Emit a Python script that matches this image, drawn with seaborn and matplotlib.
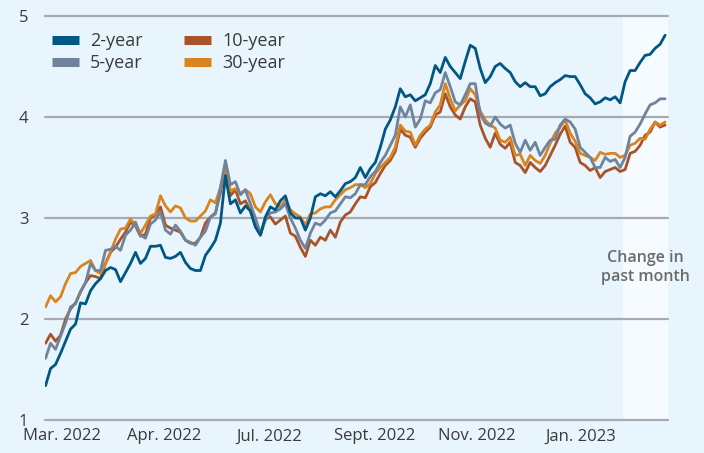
import numpy as np
import pandas as pd
import matplotlib
matplotlib.use("Agg")
import matplotlib.pyplot as plt
from matplotlib.lines import Line2D
import seaborn as sns

# Treasury yields (roughly every 5 px / ~2 trading days)
yield_2y = [
    1.34, 1.51, 1.55, 1.66, 1.78, 1.90, 1.95, 2.16, 2.15, 2.28,
    2.35, 2.40, 2.48, 2.51, 2.49, 2.37, 2.46, 2.55, 2.66, 2.55,
    2.60, 2.72, 2.72, 2.73, 2.61, 2.60, 2.62, 2.66, 2.56, 2.50,
    2.48, 2.48, 2.63, 2.70, 2.78, 2.95, 3.42, 3.14, 3.18, 3.05,
    3.12, 3.07, 2.91, 2.83, 3.01, 3.11, 3.08, 3.17, 3.22, 3.05,
    3.00, 3.00, 2.88, 3.00, 3.21, 3.24, 3.22, 3.26, 3.21, 3.27,
    3.34, 3.36, 3.40, 3.50, 3.40, 3.49, 3.55, 3.70, 3.88, 3.97,
    4.10, 4.28, 4.20, 4.22, 4.16, 4.19, 4.22, 4.33, 4.51, 4.44,
    4.59, 4.50, 4.44, 4.38, 4.55, 4.71, 4.68, 4.48, 4.34, 4.40,
    4.50, 4.53, 4.48, 4.44, 4.35, 4.30, 4.34, 4.30, 4.30, 4.21,
    4.23, 4.30, 4.34, 4.37, 4.41, 4.40, 4.40, 4.32, 4.23, 4.19,
    4.13, 4.15, 4.19, 4.17, 4.20, 4.14, 4.35, 4.46, 4.46, 4.54,
    4.61, 4.62, 4.68, 4.72, 4.81,
]
yield_5y = [
    1.61, 1.76, 1.70, 1.83, 1.96, 2.12, 2.15, 2.27, 2.36, 2.55,
    2.48, 2.48, 2.68, 2.69, 2.72, 2.68, 2.83, 2.88, 2.96, 2.83,
    2.80, 2.94, 2.98, 3.06, 2.88, 2.84, 2.93, 2.87, 2.78, 2.76,
    2.73, 2.81, 2.87, 3.01, 3.04, 3.30, 3.57, 3.33, 3.36, 3.23,
    3.28, 3.14, 3.00, 2.85, 2.98, 3.05, 3.06, 3.09, 3.14, 3.00,
    2.90, 2.78, 2.70, 2.85, 2.95, 2.93, 2.98, 3.05, 3.07, 3.14,
    3.21, 3.20, 3.24, 3.33, 3.33, 3.41, 3.46, 3.55, 3.62, 3.72,
    3.82, 4.10, 4.00, 4.12, 3.90, 3.98, 4.16, 4.14, 4.24, 4.27,
    4.44, 4.30, 4.15, 4.12, 4.22, 4.33, 4.33, 4.03, 3.94, 3.91,
    4.00, 3.93, 3.89, 3.92, 3.74, 3.65, 3.77, 3.67, 3.75, 3.62,
    3.70, 3.77, 3.78, 3.92, 3.98, 3.95, 3.88, 3.70, 3.65, 3.60,
    3.50, 3.50, 3.60, 3.56, 3.58, 3.50, 3.60, 3.81, 3.85, 3.93,
    4.03, 4.12, 4.14, 4.18, 4.18,
]
yield_10y = [
    1.76, 1.85, 1.78, 1.84, 2.00, 2.10, 2.16, 2.27, 2.36, 2.43,
    2.42, 2.40, 2.55, 2.66, 2.71, 2.79, 2.86, 2.96, 2.92, 2.82,
    2.84, 3.00, 3.03, 3.11, 2.93, 2.90, 2.88, 2.86, 2.78, 2.75,
    2.75, 2.81, 2.95, 3.01, 3.05, 3.25, 3.53, 3.22, 3.28, 3.14,
    3.17, 3.07, 2.93, 2.83, 2.99, 3.01, 2.94, 2.98, 3.02, 2.85,
    2.82, 2.71, 2.62, 2.78, 2.73, 2.81, 2.78, 2.88, 2.81, 2.96,
    3.03, 3.06, 3.14, 3.21, 3.20, 3.31, 3.35, 3.44, 3.52, 3.57,
    3.66, 3.88, 3.82, 3.80, 3.70, 3.79, 3.85, 3.90, 4.02, 4.05,
    4.23, 4.10, 4.02, 3.98, 4.10, 4.18, 4.15, 3.92, 3.79, 3.70,
    3.84, 3.73, 3.69, 3.75, 3.55, 3.52, 3.45, 3.55, 3.50, 3.46,
    3.52, 3.62, 3.72, 3.83, 3.91, 3.75, 3.70, 3.55, 3.52, 3.47,
    3.50, 3.40, 3.46, 3.48, 3.50, 3.46, 3.48, 3.64, 3.66, 3.72,
    3.82, 3.85, 3.95, 3.90, 3.92,
]
yield_30y = [
    2.12, 2.23, 2.17, 2.22, 2.35, 2.45, 2.46, 2.52, 2.55, 2.58,
    2.48, 2.45, 2.55, 2.66, 2.79, 2.89, 2.90, 2.99, 2.93, 2.85,
    2.93, 3.02, 3.04, 3.22, 3.12, 3.06, 3.12, 3.10, 3.00, 2.97,
    2.97, 3.02, 3.07, 3.18, 3.15, 3.30, 3.50, 3.27, 3.29, 3.24,
    3.28, 3.24, 3.11, 3.06, 3.16, 3.23, 3.14, 3.11, 3.18, 3.08,
    3.04, 3.01, 2.93, 3.04, 3.05, 3.09, 3.11, 3.11, 3.18, 3.23,
    3.28, 3.30, 3.33, 3.33, 3.30, 3.34, 3.44, 3.50, 3.55, 3.60,
    3.70, 3.92, 3.86, 3.85, 3.72, 3.82, 3.88, 3.92, 4.05, 4.12,
    4.33, 4.18, 4.06, 4.12, 4.16, 4.28, 4.22, 4.06, 3.97, 3.92,
    3.89, 3.77, 3.75, 3.80, 3.62, 3.63, 3.52, 3.62, 3.57, 3.54,
    3.62, 3.74, 3.84, 3.90, 3.97, 3.84, 3.76, 3.64, 3.62, 3.60,
    3.57, 3.65, 3.63, 3.64, 3.64, 3.60, 3.62, 3.72, 3.74, 3.79,
    3.78, 3.88, 3.95, 3.92, 3.95,
]

tick_labels = ["Mar. 2022", "Apr. 2022", "Jul. 2022", "Sept. 2022", "Nov. 2022", "Jan. 2023"]
tick_pos = [3.2, 23.8, 44.8, 65.8, 86.4, 107.2]
shade_start = 115.6  # start of "past month" window

colors = {"2-year": "#005783", "5-year": "#6f849c", "10-year": "#a9532a", "30-year": "#d9841f"}

df = pd.DataFrame({
    "day": np.arange(len(yield_2y)),
    "2-year": yield_2y,
    "5-year": yield_5y,
    "10-year": yield_10y,
    "30-year": yield_30y,
})
long = df.melt(id_vars="day", var_name="tenor", value_name="yield")

sns.set_style("white")
plt.rcParams["font.family"] = ["Open Sans", "DejaVu Sans"]

bg = "#e8f5fc"
fig = plt.figure(figsize=(7.04, 4.53), dpi=100, facecolor=bg)
ax = fig.add_axes([0.064, 0.0728, 0.885, 0.8919])
ax.set_facecolor(bg)

xmax = len(yield_2y) - 1 + 0.6
ax.set_xlim(-0.1, xmax)
ax.set_ylim(1, 5)

ax.axvspan(shade_start, xmax, color="#f5fbff", zorder=0, lw=0)
for y in [1, 2, 3, 4, 5]:
    ax.axhline(y, color="#a7abaf", lw=1.6, zorder=1, clip_on=False)

sns.lineplot(data=long, x="day", y="yield", hue="tenor",
             hue_order=["10-year", "30-year", "5-year", "2-year"],
             palette=colors, linewidth=2.0, legend=False, ax=ax, zorder=3)

for s in ax.spines.values():
    s.set_visible(False)
ax.set_xlabel("")
ax.set_ylabel("")
ax.set_yticks([1, 2, 3, 4, 5])
ax.set_yticklabels(["1", "2", "3", "4", "5"])
ax.set_xticks(tick_pos)
ax.set_xticklabels(tick_labels)
ax.tick_params(axis="both", length=0, labelcolor="#3a3a3a")
ax.tick_params(axis="y", pad=12, labelsize=12)
ax.tick_params(axis="x", pad=6, labelsize=12)

ax.text((shade_start + xmax) / 2, 2.51, "Change in\npast month", ha="center", va="center",
        fontsize=11.5, color="#6b6b6b", fontweight="semibold", linespacing=1.2)

handles = [Line2D([0], [0], color=colors[k], lw=6.5, solid_capstyle="butt")
           for k in ["2-year", "5-year", "10-year", "30-year"]]
ax.legend(handles, ["2-year", "5-year", "10-year", "30-year"], ncol=2,
          loc="upper left", bbox_to_anchor=(-0.015, 1.0), frameon=False,
          fontsize=13, handlelength=1.5, handletextpad=0.6, columnspacing=2.3,
          labelspacing=0.2, labelcolor="#3a3a3a")

fig.savefig("out.png", dpi=100, facecolor=bg)
